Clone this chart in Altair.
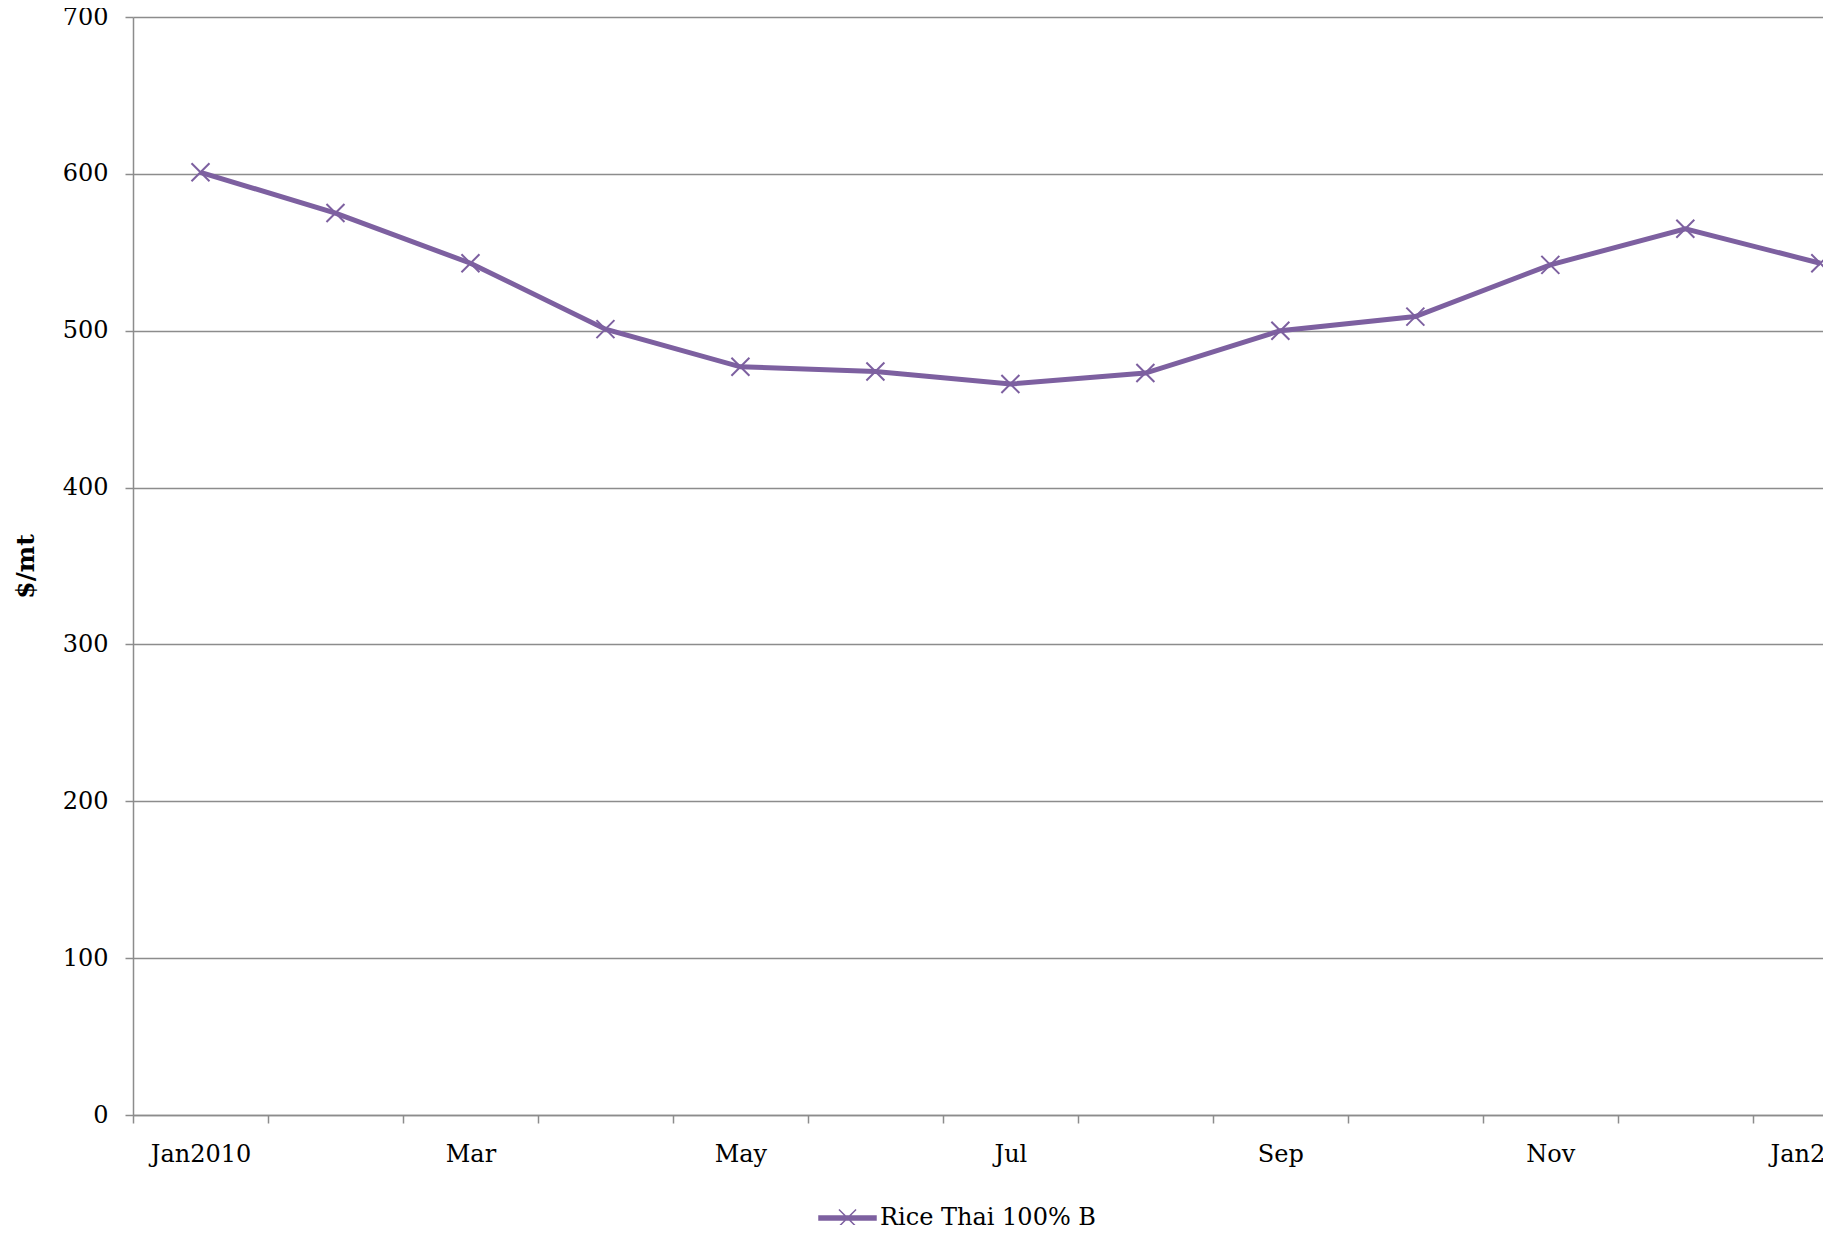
import json
import altair as alt
import pandas as pd

# ---- data ----
months = ["Jan2010", "Feb", "Mar", "Apr", "May", "Jun", "Jul", "Aug",
          "Sep", "Oct", "Nov", "Dec", "Jan2011"]
prices = [601, 575, 543, 501, 477, 474, 466, 473, 500, 509, 542, 565, 543]
series_name = "Rice Thai 100% B"
y_ticks = [0, 100, 200, 300, 400, 500, 600, 700]

PURPLE = "#7D60A0"
GRAY = "#8C8C8C"
FONT = "DejaVu Serif"
FS = 24

df = pd.DataFrame({
    "idx": list(range(len(months))),
    "month": months,
    "price": prices,
    "series": [series_name] * len(months),
})

# category boundaries carry the tick marks, every other category carries a label
boundary_ticks = [i - 0.5 for i in range(len(months))]
label_ticks = list(range(0, len(months), 2))
x_values = sorted(boundary_ticks + label_ticks)
label_expr = ("datum.value % 1 != 0 ? '' : " + json.dumps(months) + "[datum.value]")

PAD_TOP = 9
W, H = 1690, 1098
SVG_BOTTOM = 1225  # page y where the drawing ends

x_enc = alt.X(
    "idx:Q",
    scale=alt.Scale(domain=[-0.5, 12.02], nice=False, zero=False),
    axis=alt.Axis(
        values=x_values,
        labelExpr=label_expr,
        tickOpacity={"condition": {"test": "datum.value % 1 == 0", "value": 0}, "value": 1},
        tickSize=8, tickWidth=1.5, tickColor=GRAY,
        domainColor=GRAY, domainWidth=1.5,
        grid=False, title=None,
        labelFont=FONT, labelFontSize=FS, labelColor="black",
        labelPadding=19, labelFlush=False, labelOverlap=False,
    ),
)

y_enc = alt.Y(
    "price:Q",
    scale=alt.Scale(domain=[0, 700], nice=False),
    axis=alt.Axis(
        values=y_ticks, format="d",
        title="$/mt", titleFont=FONT, titleFontSize=25, titleFontWeight="bold",
        titleColor="black", titleAngle=270, titleAlign="center", titleBaseline="middle",
        titleX=-108, titleY=H / 2,
        tickSize=8, tickWidth=1.5, tickColor=GRAY,
        domainColor=GRAY, domainWidth=1.5,
        grid=True, gridColor=GRAY, gridWidth=1.5,
        labelFont=FONT, labelFontSize=FS, labelColor="black",
        labelPadding=17, labelFlush=False,
    ),
)

X_PATH = "M-1,-1L1,1M-1,1L1,-1"
LEGEND_PATH = "M-1,-0.07H1V0.07H-1ZM-0.3,-0.3L0.3,0.3M-0.3,0.3L0.3,-0.3"

line = alt.Chart(df).mark_line(strokeWidth=5, clip=True).encode(
    x=x_enc,
    y=y_enc,
    color=alt.Color(
        "series:N",
        scale=alt.Scale(range=[PURPLE]),
        legend=alt.Legend(
            title=None, orient="none", legendX=685,
            legendY=1217 - (8 + PAD_TOP) - 28.5,
            symbolType=LEGEND_PATH, symbolSize=3249,
            symbolFillColor=PURPLE, symbolStrokeColor=PURPLE,
            symbolStrokeWidth=1.5, symbolOpacity=1,
            labelFont=FONT, labelFontSize=FS, labelColor="black", labelOffset=3,
            labelLimit=600, padding=0,
        ),
    ),
)

points = alt.Chart(df).mark_point(
    shape=X_PATH, size=324, filled=False, strokeWidth=2, color=PURPLE, opacity=1, clip=True
).encode(x=x_enc, y=y_enc)

chart = (
    alt.layer(line, points)
    .properties(
        width=W, height=H,
        autosize=alt.AutoSizeParams(type="none"),
        padding={"left": 125, "top": PAD_TOP, "right": 0,
                 "bottom": SVG_BOTTOM - (8 + PAD_TOP + H)},
        background="white",
    )
    .configure_view(strokeWidth=0)
)

chart.save("out.html", embed_options={"renderer": "svg", "actions": False})
